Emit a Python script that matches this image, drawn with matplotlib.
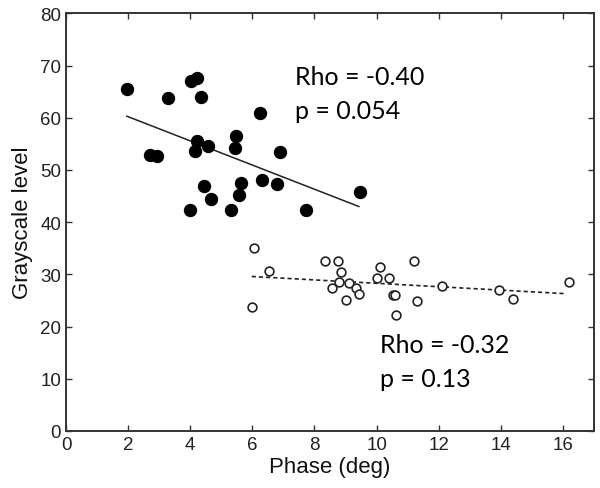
import matplotlib

matplotlib.use("Agg")
import matplotlib.pyplot as plt

# filled group
phase_a = [1.96, 4.01, 4.21, 3.27, 4.35, 6.24, 5.48, 4.21, 4.57, 5.44, 4.15, 2.69,
           2.93, 6.88, 4.44, 5.63, 6.30, 6.78, 5.56, 4.66, 9.45, 3.99, 5.31, 7.72]
gray_a = [65.5, 67.0, 67.6, 63.7, 63.9, 60.9, 56.6, 55.5, 54.6, 54.3, 53.6, 52.9,
          52.7, 53.4, 47.0, 47.6, 48.0, 47.3, 45.2, 44.4, 45.8, 42.4, 42.3, 42.4]
fit_a_x = [1.96, 9.43]
fit_a_y = [60.3, 43.0]

# open group
phase_b = [6.06, 5.98, 6.55, 8.33, 8.77, 8.84, 8.79, 8.56, 9.11, 9.33, 9.43, 9.02,
           10.1, 10.0, 10.39, 10.54, 10.58, 10.61, 11.2, 11.31, 12.12, 13.93, 14.39, 16.21]
gray_b = [35.0, 23.8, 30.7, 32.6, 32.5, 30.5, 28.6, 27.4, 28.4, 27.4, 26.2, 25.0,
          31.4, 29.3, 29.3, 26.1, 26.0, 22.2, 32.6, 24.9, 27.8, 27.0, 25.3, 28.6]
fit_b_x = [5.98, 16.1]
fit_b_y = [29.6, 26.3]

x_ticks = list(range(0, 17, 2))
y_ticks = list(range(0, 81, 10))

plt.rcParams["font.family"] = ["Liberation Sans", "DejaVu Sans"]
AXIS_COLOR = "#333333"
NOTE_FONT = ["Lato", "DejaVu Sans"]

fig = plt.figure(figsize=(6.0, 4.89), dpi=100)
ax = fig.add_axes([0.11, 0.1166, 0.88, 0.854])

ax.plot(phase_a, gray_a, "o", color="black", markersize=8.6, zorder=3)
ax.plot(fit_a_x, fit_a_y, "-", color="#222222", linewidth=1.1, zorder=2)
ax.plot(phase_b, gray_b, "o", markerfacecolor="white", markeredgecolor="#222222",
        markeredgewidth=1.2, markersize=6.3, zorder=3)
ax.plot(fit_b_x, fit_b_y, linestyle=(0, (2.5, 1.8)), color="#222222", linewidth=1.2, zorder=2)

ax.text(7.37, 67.9, "Rho = -0.40", fontsize=18, family=NOTE_FONT, va="center")
ax.text(7.37, 61.4, "p = 0.054", fontsize=18, family=NOTE_FONT, va="center")
ax.text(10.1, 16.5, "Rho = -0.32", fontsize=18, family=NOTE_FONT, va="center")
ax.text(10.1, 10.1, "p = 0.13", fontsize=18, family=NOTE_FONT, va="center")

ax.set_xlim(0, 17)
ax.set_ylim(0, 80)
ax.set_xticks(x_ticks)
ax.set_yticks(y_ticks)
ax.tick_params(direction="in", top=True, right=True, length=4, width=1,
               colors=AXIS_COLOR, labelsize=13.5, labelcolor="#222222")
for spine in ax.spines.values():
    spine.set_color(AXIS_COLOR)
    spine.set_linewidth(1.4)

ax.set_xlabel("Phase (deg)", fontsize=16, color="#111111", labelpad=2)
ax.set_ylabel("Grayscale level", fontsize=16, color="#111111", labelpad=5)

fig.savefig("out.png", facecolor="white")
